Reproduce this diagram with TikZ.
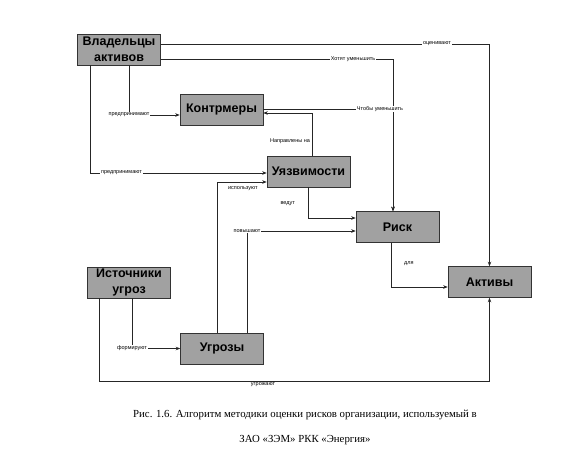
\documentclass[tikz,border=0pt]{standalone}
\usepackage{fontspec}
\setmainfont{Liberation Serif}
\newfontfamily\diagfont{Liberation Sans}
\usetikzlibrary{arrows, arrows.meta, positioning, calc}

\begin{document}
\begin{tikzpicture}[
        x=1pt, y=-1pt,
        >={Stealth[length=4.5pt, width=3.5pt]},
        line width=0.6pt,
        block/.style = {
            draw=black!80,
            fill=black!37,
            rectangle,
            minimum height=31pt,
            minimum width=83pt,
            inner sep=0pt,
            align=center,
            font=\diagfont\bfseries\fontsize{12.5}{13}\selectfont,
        },
        link/.style = {
            draw=black!85,
            ->
        },
        tag/.style = {
            font=\diagfont\fontsize{5.5}{6}\selectfont,
            fill=white,
            inner sep=0.8pt
        }
    ]

    \useasboundingbox (0,0) rectangle (569,460);

    \node[block] (owners) at (119,49.5) {Владельцы\\[3.5pt]активов};
    \node[block] (counter) at (221.5,109.5) {Контрмеры};
    \node[block] (vuln) at (308.5,171.5) {Уязвимости};
    \node[block] (risk) at (397.5,227) {Риск};
    \node[block] (assets) at (489.5,282) {Активы};
    \node[block] (sources) at (129,282.5) {Источники\\[3pt]угроз};
    \node[block] (threats) at (222,348.5) {Угрозы};

    % owners
    \draw[link] ([yshift=5.5pt]owners.east) -| node[tag, pos=0.42] {оценивают} (assets.north);
    \draw[link] ([yshift=-9.5pt]owners.east) -| node[tag, pos=0.414] {Хотят уменьшить} ([xshift=-4.5pt]risk.north);
    \draw[link] ([xshift=10pt]owners.south) |- node[tag, pos=0.5] {предпринимают} ([yshift=-5.5pt]counter.west);
    \draw[link] ([xshift=-29pt]owners.south) |- node[tag, pos=0.589] {предпринимают} ([yshift=-1.5pt]vuln.west);

    \draw[link] ([yshift=0.5pt]counter.east) -| node[tag, pos=0.45] {Чтобы уменьшить} ([xshift=-4.5pt]risk.north);

    % vulnerabilities
    \draw[link] ([xshift=3.5pt]vuln.north) |- node[tag, pos=0.17, left=1pt] {Направлены на} ([yshift=-3.5pt]counter.east);
    \draw[link] ([xshift=-0.5pt]vuln.south) |- node[tag, pos=0.26, left=12pt] {ведут} ([yshift=9pt]risk.west);

    % threats
    \draw[link] ([xshift=-5pt]threats.north) |- node[tag, pos=0.76, below=3pt] {используют} ([yshift=-10.5pt]vuln.west);
    \draw[link] ([xshift=25pt]threats.north) |- node[tag, pos=0.5] {повышают} ([yshift=-4pt]risk.west);

    \draw[link] ([xshift=-6.5pt]risk.south) |- node[tag, pos=0.24, right=12pt] {для} ([yshift=-5pt]assets.west);

    % sources
    \draw[link] ([xshift=-30pt]sources.south) |- node[tag, pos=0.71, below=1pt] {угрожают} ([yshift=-83pt]assets.south) -- (assets.south);
    \draw[link] ([xshift=3pt]sources.south) |- node[tag, pos=0.5] {формируют} (threats.west);

    \node[font=\fontsize{10.8}{25}\selectfont, align=center] (caption) at (305,427.5)
        {Рис. 1.6. Алгоритм методики оценки рисков организации, используемый в\\ЗАО «ЗЭМ» РКК «Энергия»};

\end{tikzpicture}
\end{document}
